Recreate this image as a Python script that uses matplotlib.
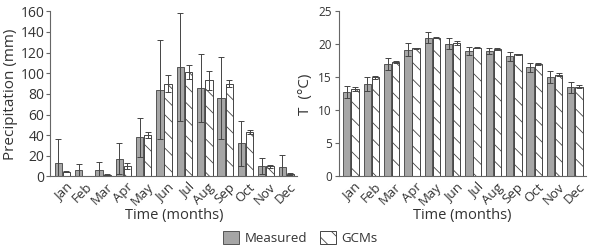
import numpy as np
import matplotlib.pyplot as plt
from matplotlib.patches import Patch

plt.rcParams['font.family'] = ['Open Sans', 'DejaVu Sans']
plt.rcParams['hatch.linewidth'] = 0.6

months = ['Jan', 'Feb', 'Mar', 'Apr', 'May', 'Jun', 'Jul', 'Aug', 'Sep', 'Oct', 'Nov', 'Dec']

# precipitation (mm)
prec_meas = [13, 6, 6, 17, 38, 84, 106, 86, 76, 32, 10, 9]
prec_meas_err = [23, 6, 8, 15, 19, 48, 52, 33, 40, 22, 8, 12]
prec_gcm = [4.5, 0, 1.5, 10, 40, 90, 101, 93, 90, 43, 10, 2.5]
prec_gcm_err = [0.6, 0, 0.5, 3, 3, 8, 7, 9, 3, 2, 1.5, 1]

# temperature (degC)
temp_meas = [12.8, 14.0, 17.0, 19.2, 21.0, 20.1, 19.0, 19.0, 18.2, 16.5, 15.0, 13.5]
temp_meas_err = [0.9, 1.0, 0.9, 1.0, 0.8, 0.8, 0.6, 0.5, 0.7, 0.7, 0.9, 0.8]
temp_gcm = [13.3, 15.0, 17.3, 19.4, 21.0, 20.2, 19.5, 19.3, 18.5, 17.0, 15.4, 13.6]
temp_gcm_err = [0.3, 0.2, 0.2, 0.1, 0.1, 0.3, 0.1, 0.2, 0.1, 0.2, 0.2, 0.2]

grey = '#a6a6a6'
edge = '#555555'
txt = '#333333'

fig = plt.figure(figsize=(5.89, 2.52), dpi=100)
ax1 = fig.add_axes([0.085, 0.30, 0.42, 0.655])
ax2 = fig.add_axes([0.575, 0.30, 0.42, 0.655])

x = np.arange(len(months))
w = 0.36

def draw(ax, meas, meas_err, gcm, gcm_err):
    ax.bar(x - 0.2, meas, w, color=grey, edgecolor=edge, linewidth=0.7,
           yerr=meas_err, error_kw=dict(ecolor='#444444', elinewidth=0.7, capsize=2, capthick=0.7))
    ax.bar(x + 0.2, gcm, w, color='white', edgecolor='#444444', linewidth=0.7, hatch='\\\\',
           yerr=gcm_err, error_kw=dict(ecolor='#444444', elinewidth=0.7, capsize=2, capthick=0.7))
    ax.spines['top'].set_visible(False)
    ax.spines['right'].set_visible(False)
    for s in ['left', 'bottom']:
        ax.spines[s].set_color('#666666')
        ax.spines[s].set_linewidth(0.8)
    ax.set_xticks(x + 0.15)
    ax.set_xticklabels(months, rotation=45, ha='right', rotation_mode='anchor', color=txt)
    ax.tick_params(axis='x', length=0, pad=3, labelsize=9.5)
    ax.tick_params(axis='y', colors='#666666', labelcolor=txt, length=3, width=0.8)
    ax.set_xlim(-0.6, 11.55)
    ax.set_xlabel('Time (months)', color=txt, fontsize=10.5, labelpad=0)

draw(ax1, prec_meas, prec_meas_err, prec_gcm, prec_gcm_err)
ax1.set_ylim(0, 160)
ax1.set_yticks(range(0, 161, 20))
ax1.tick_params(axis='y', labelsize=10, pad=1)
ax1.set_ylabel('Precipitation (mm)', color=txt, fontsize=11, labelpad=2)

draw(ax2, temp_meas, temp_meas_err, temp_gcm, temp_gcm_err)
ax2.set_ylim(0, 25)
ax2.set_yticks(range(0, 26, 5))
ax2.tick_params(axis='y', labelsize=8.5, pad=2)
ax2.set_ylabel('T  (°C)', color=txt, fontsize=11, labelpad=4)

handles = [Patch(facecolor=grey, edgecolor=edge, linewidth=0.7, label='Measured'),
           Patch(facecolor='white', edgecolor='#444444', linewidth=0.7, hatch='\\\\', label='GCMs')]
leg = fig.legend(handles=handles, loc='lower center', bbox_to_anchor=(0.51, -0.02), ncol=2,
                 frameon=False, fontsize=9.5, handlelength=1.2, handleheight=1.2,
                 handletextpad=0.4, columnspacing=1.0)
for t in leg.get_texts():
    t.set_color(txt)

fig.savefig('out.png', dpi=100)
